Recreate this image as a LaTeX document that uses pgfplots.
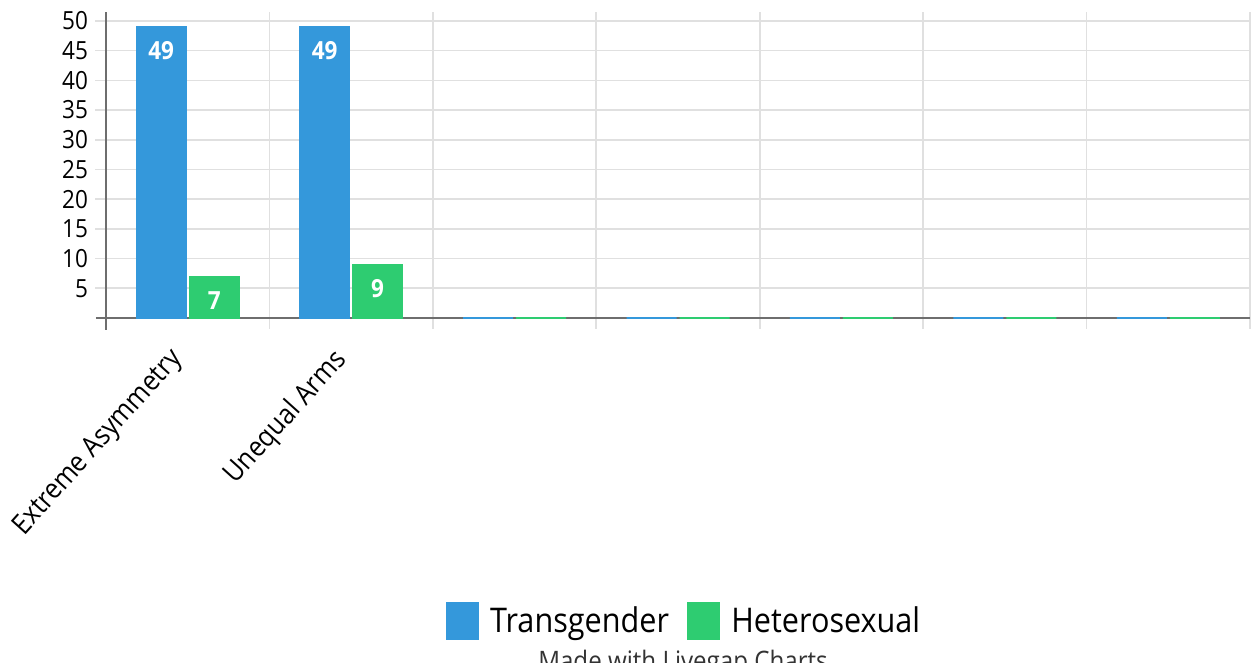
\documentclass[border=0pt]{standalone}
\usepackage{pgfplots}
\pgfplotsset{compat=1.18}
\usepackage{fontspec}
\setmainfont{Open Sans}[FakeStretch=0.9]
\definecolor{barblue}{HTML}{3498DB}
\definecolor{bargreen}{HTML}{2ECC71}
\definecolor{gridgray}{HTML}{E0E0E0}
\definecolor{axisgray}{HTML}{6E6E6E}
\pgfplotsset{
  sqlegend/.style={legend image code/.code={\fill[##1] (0pt,-9pt) rectangle (16pt,9.5pt);}},
}
\begin{document}
\begin{tikzpicture}
\begin{axis}[
  set layers,
  at={(0,0)}, anchor=south west,
  scale only axis, width=572pt, height=153pt,
  ybar=1.5pt, bar width=25pt,
  xmin=-0.5, xmax=6.5, ymin=0, ymax=51.5,
  axis x line=bottom, axis y line=left,
  axis line style={axisgray, line width=0.8pt, -},
  x axis line style={shorten <=-5pt},
  y axis line style={shorten <=-6pt},
  xtick={-0.5,0.5,...,6.5}, xticklabels={},
  ytick={5,10,...,50},
  grid=major, major grid style={gridgray, line width=0.8pt},
  tick align=outside, major tick length=5.5pt,
  every tick/.style={gridgray, line width=0.8pt},
  extra x ticks={0,1},
  extra x tick labels={Extreme Asymmetry, Unequal Arms},
  extra x tick style={grid=none, major tick length=0pt,
    xticklabel style={xshift=-10pt, yshift=-9pt, rotate=48, anchor=north east, font=\fontsize{14}{16}\selectfont}},
  yticklabel style={font=\fontsize{12.5}{14}\selectfont},
  /pgf/number format/assume math mode=true,
  nodes near coords={\pgfmathfloatifflags{\pgfplotspointmeta}{0}{}{\pgfmathprintnumber{\pgfplotspointmeta}}},
  every node near coord/.append style={font=\bfseries\fontsize{12.5}{14}\selectfont, text=white, inner sep=0pt, yshift=-17pt},
  legend style={at={(0.5,-0.99)}, anchor=center, xshift=3.5pt, draw=none, legend columns=-1,
    font=\fontsize{17}{20}\selectfont,
    /tikz/every odd column/.append style={column sep=3.5pt},
    /tikz/every even column/.append style={column sep=7pt}},
  clip=false,
]
\addplot[fill=barblue, draw=barblue, line width=0.7pt, sqlegend] coordinates {(0,49) (1,49) (2,0) (3,0) (4,0) (5,0) (6,0)};
\addplot[fill=bargreen, draw=bargreen, line width=0.7pt, sqlegend] coordinates {(0,7) (1,9) (2,0) (3,0) (4,0) (5,0) (6,0)};
\legend{Transgender, Heterosexual}
\end{axis}
\node[anchor=base, font=\fontsize{13.4}{15}\selectfont, text=black!80] at (288.5pt,-176.5pt) {Made with Livegap Charts};
\pgfresetboundingbox
\useasboundingbox (-53pt,-172.5pt) rectangle (574pt,159pt);
\end{tikzpicture}
\end{document}
